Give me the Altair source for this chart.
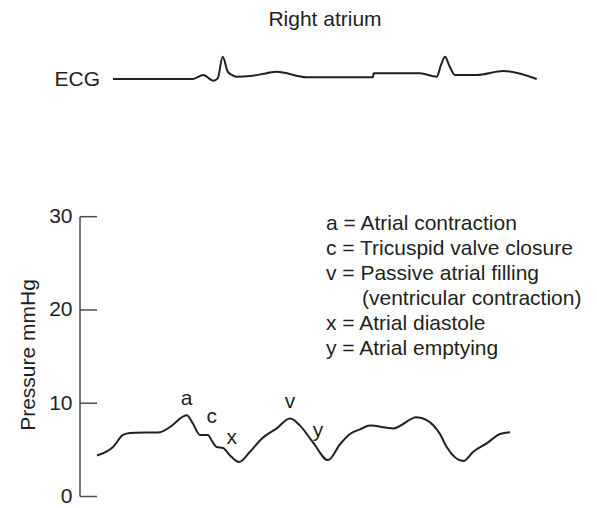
import altair as alt
import pandas as pd

# Right atrial pressure trace (time in arbitrary units, pressure in mmHg)
p_time = [17, 33, 43, 50, 80, 90, 106.7, 113, 120, 128, 131.7, 136.7, 143, 150, 159, 170,
          181.7, 196.7, 210, 220, 233, 248, 260, 270, 280, 290, 313, 336.7, 346.7, 360,
          366.7, 383.3, 393.3, 406.7, 420, 430]
p_mmhg = [4.4, 5.3, 6.6, 6.8, 6.9, 7.45, 8.7, 7.8, 6.6, 6.6, 6.0, 5.3, 5.2, 4.4, 3.7, 4.8,
          6.2, 7.3, 8.35, 7.6, 5.8, 3.9, 5.6, 6.7, 7.2, 7.6, 7.3, 8.5, 8.2, 6.7,
          5.3, 3.8, 4.8, 5.7, 6.7, 6.9]

# ECG trace (same time base, relative amplitude, 1 = R-wave height)
ecg_time = [33, 113, 123.3, 133.3, 137.7, 142.7, 147.7, 151.7, 156.7, 170, 186.7, 196.7,
            226.7, 293, 293.6, 340, 356.7, 361, 365, 369, 375, 396.7, 423.3, 456.7]
ecg_amp = [0, 0, 0.18, -0.08, 0.03, 1.0, 0.33, 0.18, 0.10, 0.13, 0.26, 0.33,
           0.08, 0.08, 0.26, 0.26, 0.10, 0.63, 1.0, 0.63, 0.18, 0.18, 0.36, 0.0]

# Wave labels (baseline positions)
wave_labels = ["a", "c", "x", "v", "y"]
wave_time = [106.7, 131.7, 151.7, 210, 238]
wave_mmhg = [9.81, 7.85, 5.63, 9.46, 6.41]

# Key text (baseline positions)
key_lines = ["a = Atrial contraction", "c = Tricuspid valve closure",
             "v = Passive atrial filling", "(ventricular contraction)",
             "x = Atrial diastole", "y = Atrial emptying"]
key_time = [246, 246, 246, 282, 246, 246]
key_mmhg = [28.57, 25.89, 23.21, 20.53, 17.85, 15.17]

tick_values = [0, 10, 20, 30]

FONT = "Liberation Sans"
INK = "#231f20"
FS = 21

press_df = pd.DataFrame({"t": p_time, "p": p_mmhg})
ecg_df = pd.DataFrame({"t": ecg_time, "e": ecg_amp})
wave_df = pd.DataFrame({"t": wave_time, "p": wave_mmhg, "label": wave_labels})
key_df = pd.DataFrame({"t": key_time, "p": key_mmhg, "text": key_lines})
tick_df = pd.DataFrame({"p": tick_values})
axis_df = pd.DataFrame({"p0": [min(tick_values)], "p1": [max(tick_values)]})

xs = alt.Scale(domain=[0, 500])
ys = alt.Scale(domain=[0, 52.37])

pressure = alt.Chart(press_df).mark_line(
    interpolate="monotone", color=INK, strokeWidth=2
).encode(
    x=alt.X("t:Q", scale=xs, axis=None),
    y=alt.Y("p:Q", scale=ys, title=None,
            axis=alt.Axis(values=tick_values, domain=False, ticks=False, grid=False,
                          tickSize=0, labelPadding=8, labelFontSize=FS, labelFont=FONT,
                          labelColor=INK)),
)

axis_line = alt.Chart(axis_df).mark_rule(color="#4d4d4d", strokeWidth=1.5).encode(
    x=alt.value(0), y=alt.Y("p0:Q", scale=ys), y2="p1:Q"
)
ticks = alt.Chart(tick_df).mark_rule(color="#4d4d4d", strokeWidth=1.5).encode(
    x=alt.value(0), x2=alt.value(17), y=alt.Y("p:Q", scale=ys)
)

waves = alt.Chart(wave_df).mark_text(
    font=FONT, fontSize=FS, color=INK, baseline="alphabetic", align="center"
).encode(x=alt.X("t:Q", scale=xs), y=alt.Y("p:Q", scale=ys), text="label:N")

key = alt.Chart(key_df).mark_text(
    font=FONT, fontSize=FS, color=INK, baseline="alphabetic", align="left"
).encode(x=alt.X("t:Q", scale=xs), y=alt.Y("p:Q", scale=ys), text="text:N")

ytitle = alt.Chart(pd.DataFrame({"text": ["Pressure mmHg"]})).mark_text(
    font=FONT, fontSize=FS, color=INK, angle=270, baseline="middle", align="center"
).encode(x=alt.value(-51), y=alt.value(347), text="text:N")

# ECG drawn above the pressure panel: baseline at 44.76 on the same scale,
# R-wave height equal to 2.39 scale units
ecg_line = alt.Chart(ecg_df).transform_calculate(
    ey="44.76 + datum.e * 2.39"
).mark_line(
    interpolate="monotone", color=INK, strokeWidth=2
).encode(
    x=alt.X("t:Q", scale=xs),
    y=alt.Y("ey:Q", scale=ys),
)
ecg_label = alt.Chart(pd.DataFrame({"text": ["ECG"]})).mark_text(
    font=FONT, fontSize=FS, color=INK, baseline="alphabetic", align="right"
).encode(x=alt.value(20), y=alt.value(77.5), text="text:N")
title = alt.Chart(pd.DataFrame({"text": ["Right atrium"]})).mark_text(
    font=FONT, fontSize=FS, color=INK, baseline="alphabetic", align="center"
).encode(x=alt.value(245), y=alt.value(18), text="text:N")

chart = alt.layer(
    axis_line, ticks, pressure, waves, key, ytitle, ecg_line, ecg_label, title
).properties(
    width=500, height=488.5,
    autosize=alt.AutoSizeParams(type="none"),
    padding={"left": 72, "top": 0, "right": 9, "bottom": 12},
    background="white",
).configure_view(stroke=None)

chart.save("out.html", embed_options={"renderer": "svg", "actions": False})
